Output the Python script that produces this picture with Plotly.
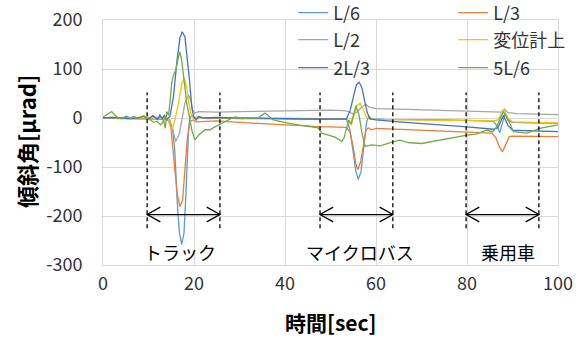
import plotly.graph_objects as go

# ---------------- data (time [sec], tilt angle [µrad]) ----------------
series_names = ["L/6", "L/3", "L/2", "変位計上", "2L/3", "5L/6"]

L6 = [(0, 0), (2, 1), (4, -1), (6, 1), (8, 0), (9, 3), (10, -2), (11, 4), (12, -3), (12.5, 5),
      (13, -2), (13.5, 6), (14, -4), (14.5, -6), (15.3, -20), (15.8, -70), (16.3, -170), (16.8, -235),
      (17.3, -258), (17.8, -235), (18.2, -160), (18.5, -80), (18.8, -25), (19.1, 0), (19.5, 5), (20, 0),
      (21, 2), (23, -1), (26, 0), (30, -1), (35, -1), (40, -2), (45, -2), (50, -3), (53.5, -2),
      (54.3, -25), (55.0, -70), (55.6, -110), (56.1, -125), (56.7, -110), (57.3, -60), (57.9, -10),
      (58.4, 4), (59, -2), (62, -3), (66, -3), (70, -4), (75, -4), (80, -5), (84, -6), (85.8, -7),
      (86.5, -15), (87.2, -30), (87.8, -10), (88.4, 10), (89, -5), (90, -9), (94, -10), (100, -11)]

L3 = [(0, 0), (3, -1), (6, -1), (9, -2), (12, -2), (13.5, -3), (14.4, -4), (14.9, -18), (15.3, -52),
      (15.8, -106), (16.3, -154), (16.9, -181), (17.5, -167), (18.0, -113), (18.5, -45), (19.1, -7),
      (19.8, -4), (20.5, -8), (22, -7), (25, -6), (30, -9), (35, -12), (40, -14), (45, -16), (47.5, -18),
      (50, -18), (53.5, -19), (54.3, -30), (55.0, -60), (55.6, -95), (56.0, -105), (56.6, -90),
      (57.2, -55), (57.8, -25), (58.3, -20), (59, -24), (60, -21), (65, -23), (70, -25), (74, -27),
      (80, -29), (85.5, -31), (86.3, -40), (87.2, -60), (87.8, -69), (88.5, -55), (89.3, -38),
      (90, -37), (95, -37), (100, -38)]

L2 = [(0, 0), (3, 0), (6, 1), (9, 0), (12, 1), (14, -1), (14.7, -4), (15.3, -24), (16.0, -48),
      (16.8, -31), (17.3, -4), (18.0, 30), (18.75, 47), (19.3, 37), (19.7, 16), (20.2, 10), (21, 13),
      (25, 12), (30, 13), (35, 14), (40, 15), (45, 16), (50, 16), (53, 15), (54, 13), (55, 8),
      (55.8, 12), (56.8, 22), (57.8, 28), (58.5, 22), (60, 19), (65, 18), (70, 17), (75, 16), (80, 15),
      (85, 13), (87.5, 12), (88.2, 18), (89, 11), (91, 9), (95, 8), (100, 7)]

GAUGE = [(0, 0), (3, 1), (6, 0), (9, 1), (12, 0), (13.5, 1), (14.4, -4), (14.7, -17), (15.3, -21),
         (15.8, -4), (16.6, 30), (17.3, 70), (17.9, 82), (18.4, 62), (18.9, 30), (19.4, 5), (20, 0),
         (22, 1), (26, 0), (30, 0), (35, -1), (40, -1), (45, -1), (50, -2), (53.5, -2), (54.1, -10),
         (54.6, -14), (55.2, 5), (55.8, 25), (56.5, 30), (57.2, 18), (57.8, 3), (58.5, -2), (60, -3),
         (65, -4), (70, -4), (75, -5), (80, -5), (85.8, -6), (86.8, -4), (88, 18), (89, 0), (90, -8),
         (95, -9), (100, -10)]

L23 = [(0, 0), (2, 1), (4, 0), (6, -1), (8, 1), (9, 4), (10, -2), (11, 5), (12, -3), (12.5, 6),
       (13, -1), (13.5, 5), (14, -3), (14.7, 3), (15.5, 44), (16.2, 112), (16.9, 163), (17.4, 176),
       (18.0, 166), (18.5, 125), (19.0, 78), (19.5, 23), (19.9, 3), (20.5, -4), (21, 3), (22, 0),
       (25, 1), (30, 0), (35, -1), (40, -1), (45, -2), (50, -2), (53.5, -2), (54.3, 15), (55.0, 45),
       (55.7, 68), (56.3, 73), (56.9, 62), (57.5, 35), (58.1, 10), (58.7, -2), (60, -4), (65, -8),
       (70, -11), (75, -14), (80, -18), (85.8, -23), (86.8, -20), (88, 5), (89, -15), (90, -25),
       (95, -27), (100, -28)]

L56 = [(0, 2), (1.2, 9), (1.9, 13), (2.6, 6), (3.4, -1), (4.5, 1), (5.2, 4), (6.0, -2), (6.7, 3),
       (7.8, -1), (8.9, 4), (9.7, -2), (10.4, -4), (11.1, -9), (11.9, -7), (12.6, -14), (13.0, -11),
       (13.3, -4), (13.7, -21), (14.0, 13), (14.4, 5), (14.7, 30), (15.1, 71), (15.5, 88), (16.0, 98),
       (16.6, 125), (16.9, 135), (17.3, 118), (17.7, 88), (18.0, 64), (18.4, 30), (19.0, 3),
       (19.5, -24), (20.2, -45), (21.0, -35), (22.4, -24), (23.5, -24), (24.6, -18), (26.2, -10),
       (28.4, 0), (29.0, 2), (30.5, -1), (31.9, 0), (34.0, 0), (35.6, 10), (36.2, 6), (37.4, -4),
       (39.3, -8), (41, -11), (42.9, -14), (45.9, -18), (47.3, -20), (48.1, -31), (49.5, -35),
       (51.0, -39), (52.0, -45), (52.5, -48), (53.0, -40), (53.5, -20), (54.0, -4), (54.5, -12),
       (55.0, 5), (55.6, 25), (56.3, 5), (56.9, -30), (57.6, -58), (59, -55), (61, -57), (63.8, -48),
       (65.3, -45), (67, -50), (70, -52), (74, -45), (77, -41), (80, -35), (82, -33), (84.3, -25),
       (85.7, -28), (86.5, -18), (88, 13), (89.1, -4), (90.2, -28), (93.1, -31), (96, -21),
       (99.7, -14), (100, -14)]

series_data = [L6, L3, L2, GAUGE, L23, L56]

# event markers (vehicle passages)
event_labels = ["トラック", "マイクロバス", "乗用車"]
event_start = [9.7, 47.7, 79.8]
event_end = [25.7, 63.7, 95.8]

x_ticks = [0, 20, 40, 60, 80, 100]
y_ticks = [200, 100, 0, -100, -200, -300]
y_tick_text = ["200", "100", "0", "-100", "-200", "-300"]

# ---------------- styling / positions ----------------
colors = ["#5B9BD5", "#ED7D31", "#A5A5A5", "#FFC000", "#4472C4", "#70AD47"]
legend_ids = ["legend", "legend", "legend2", "legend2", "legend3", "legend3"]
legend_row_px = {"legend": 13, "legend2": 40, "legend3": 68}
marker_top, marker_bottom = 52, -225
arrow_y = -197
head_dx, head_dy = 2.9, 15
label_t = [17.0, 56.5, 89.0]
label_y = -273
FONT = "Noto Sans CJK JP, sans-serif"
TXT = "#333333"
W, H = 584, 338

fig = go.Figure()
for name, data, col, lg in zip(series_names, series_data, colors, legend_ids):
    t = [p[0] for p in data]
    v = [p[1] for p in data]
    fig.add_trace(go.Scatter(x=t, y=v, mode="lines", name=name, legend=lg,
                             line=dict(color=col, width=1.3)))

shapes = []
annotations = []
for lab, s, e, lt in zip(event_labels, event_start, event_end, label_t):
    for xv in (s, e):
        shapes.append(dict(type="line", xref="x", yref="y", x0=xv, x1=xv,
                           y0=marker_bottom, y1=marker_top,
                           line=dict(color="#000000", width=1.3, dash="4px,3px")))
    shapes.append(dict(type="line", xref="x", yref="y", x0=s, x1=e, y0=arrow_y, y1=arrow_y,
                       line=dict(color="#000000", width=1.3)))
    shapes.append(dict(type="path", xref="x", yref="y",
                       path=f"M{s + head_dx},{arrow_y + head_dy} L{s},{arrow_y} L{s + head_dx},{arrow_y - head_dy}",
                       line=dict(color="#000000", width=1.3)))
    shapes.append(dict(type="path", xref="x", yref="y",
                       path=f"M{e - head_dx},{arrow_y + head_dy} L{e},{arrow_y} L{e - head_dx},{arrow_y - head_dy}",
                       line=dict(color="#000000", width=1.3)))
    annotations.append(dict(x=lt, y=label_y, xref="x", yref="y", text=lab, showarrow=False,
                            font=dict(family=FONT, size=18, color="#000000")))

annotations.append(dict(x=0.5, y=-0.233, xref="paper", yref="paper", text="<b>時間[sec]</b>",
                        showarrow=False, yanchor="middle",
                        font=dict(family=FONT, size=21, color="#000000")))
annotations.append(dict(x=-0.169, y=0.502, xref="paper", yref="paper", text="<b>傾斜角[μrad]</b>",
                        showarrow=False, textangle=-90, xanchor="center", yanchor="middle",
                        font=dict(family=FONT, size=22, color="#000000")))

legend_common = dict(orientation="h", x=0.418, xanchor="left", yref="container", yanchor="middle",
                     entrywidth=115, entrywidthmode="pixels", bgcolor="rgba(0,0,0,0)",
                     font=dict(family=FONT, size=18, color=TXT), traceorder="normal")
legends = {k: dict(legend_common, y=1 - v / H) for k, v in legend_row_px.items()}

fig.update_layout(
    width=W, height=H,
    margin=dict(l=103, r=26, t=20, b=73, autoexpand=False),
    paper_bgcolor="white", plot_bgcolor="white",
    font=dict(family=FONT, size=18, color=TXT),
    shapes=shapes, annotations=annotations,
    showlegend=True,
    **legends,
)
fig.update_xaxes(range=[0, 100], tickvals=x_ticks, showgrid=True, gridcolor="#D9D9D9", gridwidth=1,
                 showline=True, mirror=True, linecolor="#D9D9D9", linewidth=1, zeroline=False,
                 ticks="", ticklabelstandoff=2, tickfont=dict(family=FONT, size=18, color=TXT))
fig.update_yaxes(range=[-300, 200], tickvals=y_ticks, ticktext=y_tick_text, showgrid=True,
                 gridcolor="#D9D9D9", gridwidth=1, showline=True, mirror=True, linecolor="#D9D9D9",
                 linewidth=1, zeroline=False, ticks="", ticklabelstandoff=16,
                 tickfont=dict(family=FONT, size=18, color=TXT))

fig.write_html("out.html", config={"displayModeBar": False},
               post_script="document.body.style.margin='0';")
